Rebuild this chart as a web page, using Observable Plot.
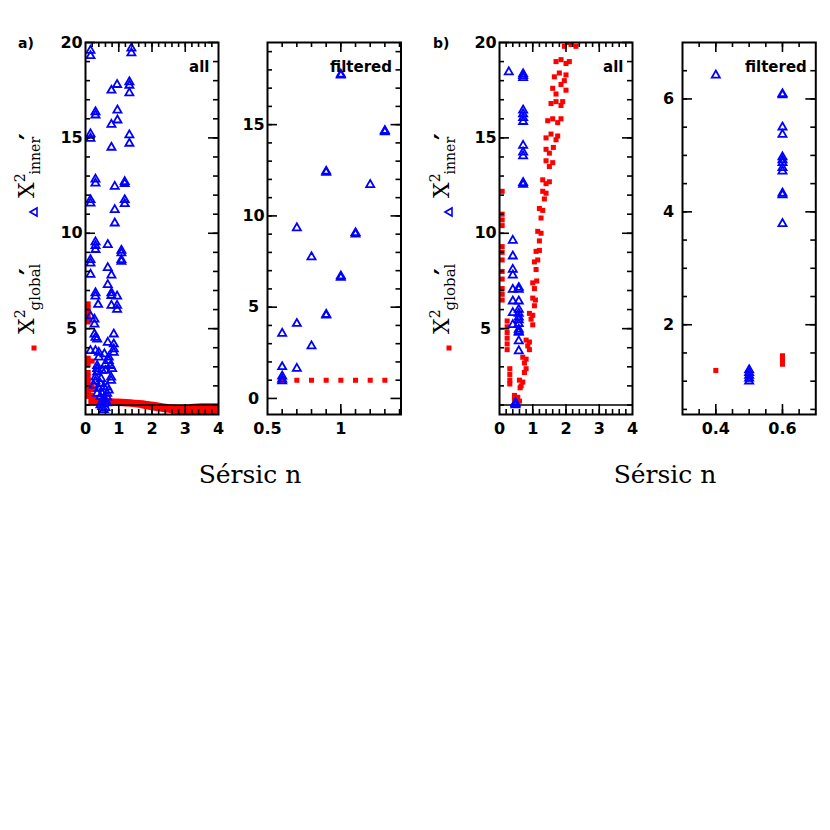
<!DOCTYPE html>
<html><head><meta charset="utf-8">
<script src="https://cdn.jsdelivr.net/npm/d3@7"></script>
<script src="https://cdn.jsdelivr.net/npm/@observablehq/plot@0.6"></script>
<style>
html,body{margin:0;padding:0;background:#fff;}
#wrap{position:relative;width:830px;height:830px;overflow:hidden;background:#fff;}
#wrap svg{position:absolute;}
</style></head><body><div id="wrap"></div>
<script>
// ---------- Panel a) "all" ----------
const a1BlueX = [0.15,0.15,1.38,1.38,1.32,1.32,1.32,0.95,0.78,0.96,0.96,0.3,0.3,0.78,0.15,0.15,1.32,1.32,0.78,
  0.3,0.3,1.18,1.18,0.88,0.15,0.15,1.18,1.18,0.88,0.88,0.3,0.3,0.3,0.67,1.08,1.08,1.08,1.08,
  0.15,0.15,0.15,0.67,0.78,0.67,0.78,0.78,0.95,0.95,0.95,0.78,0.3,0.3,0.38,
  0.15,0.27,0.27,0.27,0.3,0.35,0.85,0.67,0.85,0.85,0.85,0.15,0.3,0.4,0.4,0.57,0.7,0.7,
  0.35,0.35,0.35,0.6,0.6,0.75,0.8,0.5,0.3,0.3,0.77,0.77,0.47,0.45,0.25,
  0.4,0.55,0.65,0.7,0.35,0.5,0.65,0.45,0.55,0.65,0.5,0.6,0.45,0.55,0.65,0.5,0.6,0.55];
const a1BlueY = [19.58,19.3,19.7,19.45,17.93,17.75,17.35,17.79,17.49,16.45,15.93,16.36,16.19,15.7,15.2,14.97,15.15,14.71,14.5,
  12.83,12.62,12.7,12.6,12.45,11.75,11.57,11.75,11.54,11.23,10.53,9.54,9.35,9.14,9.4,9.1,8.96,8.61,8.52,
  8.61,8.43,7.84,8.19,7.8,7.3,6.87,6.73,6.7,6.21,6.0,6.21,6.87,6.7,6.26,
  5.66,5.49,5.23,4.71,4.53,4.45,4.71,4.27,4.19,3.93,3.75,3.84,3.84,3.75,3.5,3.67,3.5,3.32,
  3.06,2.9,2.72,3.15,2.8,3.06,2.9,2.8,2.45,2.25,2.45,2.28,2.37,2.11,2.03,
  1.86,1.94,1.94,1.77,1.6,1.6,1.6,1.43,1.35,1.4,1.2,1.15,1.0,1.05,1.1,0.9,0.85,0.75];
const a1RedX = [0.08,0.08,0.08,0.08,0.08,0.08,0.08,0.08,0.08,0.08,0.08,0.08,0.08,0.08,0.08,0.08,0.08,
  0.2,0.2,0.2,0.2,0.2,0.28,0.28];
const a1RedY = [6.3,6.1,5.9,5.7,5.5,5.35,3.45,3.3,3.1,2.7,2.5,2.3,2.1,1.9,1.75,1.6,1.45,
  3.3,2.0,1.8,1.5,1.35,1.4,1.3];
// dense red band of global chi^2 near 1
const a1BandX  = [0.1,0.3,0.5,0.8,1.0,1.25,1.5,1.75,2.0,2.25,2.5,2.75,3.0,3.25,3.5,3.75,4.0];
const a1BandHi = [1.42,1.38,1.36,1.33,1.31,1.28,1.25,1.22,1.15,1.09,1.02,0.98,0.98,1.04,1.06,1.07,1.07];
const a1BandLo = [0.95,0.95,0.94,0.93,0.92,0.89,0.85,0.78,0.7,0.63,0.56,0.5,0.5,0.5,0.5,0.5,0.5];

// ---------- Panel a) "filtered" ----------
const a2BlueX = [0.6,0.6,0.6,0.6,0.6,0.7,0.7,0.7,0.8,0.8,0.9,0.9,0.9,0.9,1.0,1.0,1.0,1.0,1.1,1.1,1.2,1.3,1.3];
const a2BlueY = [3.56,1.73,1.22,1.05,0.95,9.34,4.1,1.64,7.75,2.87,12.44,12.38,4.6,4.55,17.7,17.76,6.7,6.62,9.07,9.0,11.71,14.67,14.6];
const a2RedX = [0.6,0.7,0.8,0.9,1.0,1.1,1.2,1.3];
const a2RedY = [1.0,1.0,1.0,1.0,1.0,1.0,1.0,1.0];

// ---------- Panel b) "all" ----------
const b1BlueX = [0.28,0.71,0.71,0.71,0.71,0.71,0.71,0.71,0.71,0.71,0.71,0.71,0.71,
  0.4,0.4,0.4,0.4,0.4,0.4,0.4,0.4,
  0.58,0.58,0.58,0.58,0.58,0.58,0.58,0.58,0.58,0.58,0.58,0.58,0.58,
  0.48,0.48,0.48];
const b1BlueY = [18.45,18.35,18.25,18.15,16.45,16.25,16.05,15.85,14.6,14.25,14.05,12.65,12.55,
  9.62,8.8,8.1,7.8,7.05,6.44,5.83,5.2,
  7.15,7.05,6.44,6.0,5.8,5.6,5.45,5.25,4.96,4.85,4.8,4.35,3.83,
  1.12,1.06,1.0];
const b1RedX = [0.08,0.08,0.08,0.08,0.08,0.08,0.08,0.08,0.08,0.08,0.08,0.08,
  0.23,0.23,0.23,0.23,0.23,0.23,0.31,0.31,0.31,0.31,
  0.45,0.45,0.55,0.6,0.5,0.6,0.65,0.7,0.62,
  0.7,0.75,0.8,0.75,0.8,0.8,0.85,0.9,0.9,0.9,0.95,1.0,1.0,
  1.0,1.05,1.08,1.0,1.05,1.12,1.05,1.1,1.15,1.1,1.2,1.15,1.2,1.25,
  1.2,1.25,1.3,1.3,1.35,1.4,1.3,1.4,1.5,1.4,1.5,1.6,1.4,1.5,1.62,
  1.4,1.55,1.7,1.75,1.45,1.6,1.75,1.85,1.55,1.7,1.85,1.9,
  1.6,1.7,1.85,2.0,1.65,1.8,1.95,2.0,1.7,1.85,2.0,2.1,1.95,2.05,2.15,2.3];
const b1RedY = [12.2,11.0,10.7,10.4,9.3,9.0,8.6,8.0,7.6,7.1,6.8,6.5,
  5.4,5.1,4.8,4.5,4.2,3.9,2.9,2.6,2.3,2.1,
  1.5,1.3,1.4,1.2,1.15,2.3,2.0,2.2,1.9,
  3.5,3.2,2.9,2.7,3.4,4.4,4.1,3.9,4.3,5.8,5.5,5.2,5.7,
  6.6,6.2,6.5,7.4,7.1,7.5,8.5,8.1,8.6,9.05,9.1,10.1,9.6,10.0,
  11.3,10.8,11.2,12.2,11.8,12.1,12.8,12.6,12.7,13.8,13.5,13.7,14.4,14.2,14.5,
  15.0,15.2,14.9,15.1,15.9,16.0,15.8,16.0,16.8,16.9,16.7,16.9,
  17.6,17.3,17.8,17.5,18.2,18.4,18.0,18.3,19.0,19.1,18.9,19.0,19.8,20.0,19.9,19.8];

// ---------- Panel b) "filtered" ----------
const b2BlueX = [0.4,0.6,0.6,0.6,0.6,0.6,0.6,0.6,0.6,0.6,0.6,0.6,0.6,0.5,0.5,0.5,0.5,0.5];
const b2BlueY = [6.42,6.09,6.07,5.5,5.37,4.97,4.92,4.87,4.78,4.72,4.33,4.3,3.79,1.2,1.15,1.1,1.05,1.0];
const b2RedX = [0.4,0.5,0.6,0.6,0.6,0.6];
const b2RedY = [1.19,1.03,1.45,1.4,1.35,1.3];

// ---------- tick values ----------
const allXLabels = [0,1,2,3,4];
const allXMajor = [1,2,3];
const allYMajor = [5,10,15,20];
const a2XLabels = [0.5,1];
const a2YMajor = [0,5,10,15];
const b2XMajor = [0.4,0.6];
const b2YMajor = [2,4,6];

const RED = "#ff0000", BLUE = "#0000ff";
const FT = 42, FB = 414;
const wrap = document.getElementById("wrap");
const fmt = d => String(d);

function panel(c) {
  const mL = 45, mR = 6, mT = 6, mB = 42;
  const w = c.right - c.left, h = FB - FT;
  const red = c.redX.map((x, i) => ({x, y: c.redY[i]}));
  const blue = c.blueX.map((x, i) => ({x, y: c.blueY[i]}));
  const MJ = 10, MN = 5, sw = 1.6;
  const marks = [];
  if (c.bandX) {
    const band = c.bandX.map((x, i) => ({x, hi: c.bandHi[i], lo: c.bandLo[i]}));
    marks.push(Plot.areaY(band, {x: "x", y1: "lo", y2: "hi", fill: RED, curve: "monotone-x", clip: true}));
  }
  marks.push(Plot.dot(red, {x: "x", y: "y", symbol: "square", r: 2.85, fill: RED, clip: true}));
  if (c.hline != null) marks.push(Plot.ruleY([c.hline], {stroke: "black", strokeWidth: 1.5}));
  marks.push(Plot.dot(blue, {x: "x", y: "y", symbol: "triangle", r: 3, stroke: BLUE, strokeWidth: 1.8, fill: "none", clip: true}));
  // inward ticks on all four sides
  const tk = (vals, len) => [
    Plot.tickY(vals, {y: d => d, insetRight: w - len, strokeWidth: sw}),
    Plot.tickY(vals, {y: d => d, insetLeft: w - len, strokeWidth: sw})
  ];
  const tkx = (vals, len) => [
    Plot.tickX(vals, {x: d => d, insetTop: h - len, strokeWidth: sw}),
    Plot.tickX(vals, {x: d => d, insetBottom: h - len, strokeWidth: sw})
  ];
  marks.push(...tk(c.yMinor, MN), ...tk(c.yMajor, MJ), ...tkx(c.xMinor, MN), ...tkx(c.xMajor, MJ));
  marks.push(Plot.axisX({ticks: c.xLabels, tickSize: 0, tickPadding: 8, tickFormat: fmt, label: null,
    fontSize: 16, fontWeight: "bold", fill: "black"}));
  marks.push(Plot.axisY({ticks: c.yLabels, tickSize: 0, tickPadding: 14, textAnchor: "middle", tickFormat: fmt, label: null,
    fontSize: 16, fontWeight: "bold", fill: "black"}));
  marks.push(Plot.frame({stroke: "black", strokeWidth: 2}));
  marks.push(Plot.text([c.tag], {frameAnchor: "top-right", dx: -9, dy: 25, textAnchor: "end", lineAnchor: "middle",
    fontSize: 15, fontWeight: "bold", fill: "black"}));
  const svg = Plot.plot({
    width: w + mL + mR, height: h + mT + mB,
    marginLeft: mL, marginRight: mR, marginTop: mT, marginBottom: mB,
    x: {domain: c.xDomain, label: null},
    y: {domain: c.yDomain, label: null},
    style: {fontFamily: "DejaVu Sans", background: "transparent", overflow: "visible"},
    marks
  });
  svg.style.left = (c.left - mL) + "px";
  svg.style.top = (FT - mT) + "px";
  wrap.appendChild(svg);
}

panel({left: 85, right: 218, xDomain: [0, 4], yDomain: [0.5, 20],
  xLabels: allXLabels, xMajor: allXMajor, xMinor: d3.range(0.2, 4, 0.2),
  yLabels: allYMajor, yMajor: allYMajor, yMinor: d3.range(1, 20, 1),
  redX: a1RedX, redY: a1RedY, blueX: a1BlueX, blueY: a1BlueY,
  bandX: a1BandX, bandHi: a1BandHi, bandLo: a1BandLo, hline: 1, tag: "all"});
panel({left: 267, right: 400.5, xDomain: [0.5, 1.41], yDomain: [-0.88, 19.5],
  xLabels: a2XLabels, xMajor: [1], xMinor: d3.range(0.6, 1.41, 0.1),
  yLabels: a2YMajor, yMajor: a2YMajor, yMinor: d3.range(1, 20, 1),
  redX: a2RedX, redY: a2RedY, blueX: a2BlueX, blueY: a2BlueY, tag: "filtered"});
panel({left: 499, right: 632, xDomain: [0, 4], yDomain: [0.5, 20],
  xLabels: allXLabels, xMajor: allXMajor, xMinor: d3.range(0.2, 4, 0.2),
  yLabels: allYMajor, yMajor: allYMajor, yMinor: d3.range(1, 20, 1),
  redX: b1RedX, redY: b1RedY, blueX: b1BlueX, blueY: b1BlueY, hline: 1, tag: "all"});
panel({left: 681.7, right: 815, xDomain: [0.3, 0.7], yDomain: [0.41, 7],
  xLabels: b2XMajor, xMajor: b2XMajor, xMinor: d3.range(0.35, 0.7, 0.05),
  yLabels: b2YMajor, yMajor: b2YMajor, yMinor: d3.range(0.5, 7, 0.5),
  redX: b2RedX, redY: b2RedY, blueX: b2BlueX, blueY: b2BlueY, tag: "filtered"});

// ---------- annotations ----------
const ov = d3.select(wrap).append("svg").attr("width", 830).attr("height", 830)
  .style("left", "0px").style("top", "0px").style("pointer-events", "none");
const serif = "DejaVu Serif";
[["a)", 18, 0], ["b)", 433, 415]].forEach(([lab, tx, off]) => {
  ov.append("text").attr("x", tx).attr("y", 48).attr("font-family", "DejaVu Sans").attr("font-weight", "bold")
    .attr("font-size", 14).text(lab);
  // global label
  const g1 = ov.append("g").attr("transform", `translate(${34 + off},334) rotate(-90)`);
  const t1 = g1.append("text").attr("font-family", serif).attr("font-size", 22);
  t1.append("tspan").text("X");
  t1.append("tspan").attr("font-size", 14).attr("dy", -9).text("2");
  t1.append("tspan").attr("font-size", 15).attr("dy", 15).attr("dx", -1).text("global");
  g1.append("text").attr("x", 59).attr("y", 5).attr("font-family", "DejaVu Sans").attr("font-weight", "bold")
    .attr("font-size", 26).text("′");
  // inner label
  const g2 = ov.append("g").attr("transform", `translate(${34 + off},198) rotate(-90)`);
  const t2 = g2.append("text").attr("font-family", serif).attr("font-size", 22);
  t2.append("tspan").text("X");
  t2.append("tspan").attr("font-size", 14).attr("dy", -9).text("2");
  t2.append("tspan").attr("font-size", 14).attr("dy", 15).attr("dx", -1).text("inner");
  g2.append("text").attr("x", 58).attr("y", 5).attr("font-family", "DejaVu Sans").attr("font-weight", "bold")
    .attr("font-size", 26).text("′");
  // legend markers
  ov.append("rect").attr("x", 31.5 + off).attr("y", 345.5).attr("width", 5).attr("height", 5).attr("fill", RED);
  ov.append("path").attr("d", `M${30 + off},212 L${37 + off},208 L${37 + off},216 Z`)
    .attr("fill", "none").attr("stroke", BLUE).attr("stroke-width", 1.6);
});
[[250], [665]].forEach(([cx]) => {
  ov.append("text").attr("x", cx).attr("y", 483).attr("text-anchor", "middle")
    .attr("font-family", serif).attr("font-size", 25).text("Sérsic n");
});
</script>
</body></html>
